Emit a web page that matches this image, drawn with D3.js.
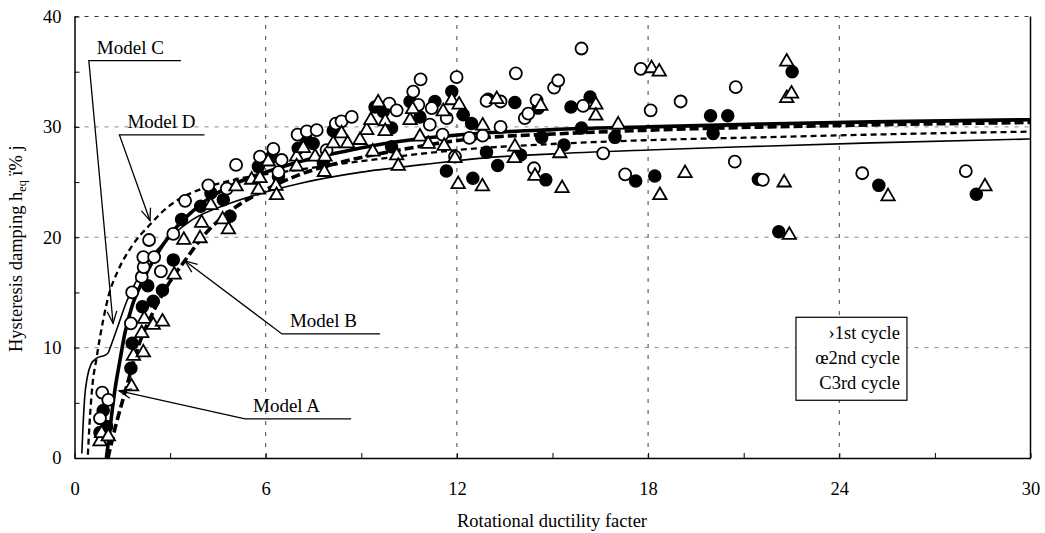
<!DOCTYPE html>
<html>
<head>
<meta charset="utf-8">
<script src="https://cdn.jsdelivr.net/npm/d3@7"></script>
<style>
body { margin: 0; background: #fff; }
svg text { font-family: "Liberation Serif", "Times New Roman", serif; fill: #000; }
</style>
</head>
<body>
<div id="chart"></div>
<script>
// --- data ---
// axis ticks
var muTicks = [0, 3, 6, 9, 12, 15, 18, 21, 24, 27, 30];
var hTicks = [0, 5, 10, 15, 20, 25, 30, 35, 40];
var gridMu = [6, 12, 18, 24];
var gridH = [10, 20, 30, 40];

// model curves [mu, h]
var modelA = [[1.0,0],[1.1,2.3],[1.17,4.0],[1.27,6.2],[1.43,8.9],[1.58,11.3],[1.8,13.7],[2.1,15.8],[2.53,18.2],[3.05,20.4],[3.57,22.0],[4.2,23.5],[5.0,24.8],[6.0,25.9],[7.0,26.8],[8.5,27.8],[10,28.6],[12.4,29.35],[15,29.75],[18,30.0],[21.5,30.25],[25,30.45],[30,30.65]];
var modelB = [[1.05,0],[1.3,3.0],[1.58,5.9],[2.0,10.1],[2.5,13.4],[3.0,16.0],[3.47,17.9],[4.1,20.3],[4.9,22.4],[6.0,24.3],[7.0,25.6],[8.5,26.9],[10,27.8],[12.4,28.9],[15,29.35],[18,29.7],[21.5,29.98],[25,30.18],[30,30.4]];
var modelC = [[0.23,0.4],[0.27,3.0],[0.32,5.5],[0.40,7.3],[0.52,8.5],[0.7,9.05],[0.95,9.3],[1.05,9.5],[1.12,10.0],[1.32,11.6],[1.64,14.2],[1.95,16.1],[2.4,18.2],[3.0,20.0],[3.7,21.6],[4.9,23.1],[6.0,24.1],[7.1,24.9],[9,25.9],[11,26.6],[12.7,27.15],[15,27.55],[18,27.9],[21,28.2],[25,28.55],[30,28.9]];
var modelD = [[0.42,0.3],[0.47,3.0],[0.54,5.9],[0.70,9.2],[0.9,12.5],[1.06,14.6],[1.37,17.0],[1.79,19.15],[2.42,21.3],[2.79,22.4],[3.2,23.3],[4.0,24.4],[5.0,25.2],[7.0,26.1],[9.0,26.9],[12.4,28.0],[15,28.45],[18,28.8],[21.5,29.05],[25,29.3],[30,29.57]];

// test results [mu, h]
var cycle1 = [[0.80,2.3],[0.90,4.3],[1.01,2.85],[1.77,8.13],[1.81,10.4],[2.13,13.7],[2.30,15.6],[2.47,14.2],[2.76,15.2],[3.10,17.95],[3.36,21.6],[3.96,22.8],[4.28,24.0],[4.67,23.4],[4.88,21.9],[5.77,26.4],[6.19,27.3],[6.40,25.5],[7.02,28.06],[7.26,28.9],[7.49,28.5],[7.81,26.7],[8.12,29.65],[9.43,31.8],[9.69,31.4],[9.95,29.9],[9.95,28.2],[10.53,32.3],[10.84,30.9],[11.31,32.3],[11.84,33.2],[11.67,26.0],[12.20,31.1],[12.46,30.3],[12.50,25.35],[12.93,27.7],[12.98,32.5],[13.28,26.5],[13.82,32.2],[14.00,27.45],[14.55,31.7],[14.66,29.05],[14.79,25.2],[15.36,28.36],[15.58,31.8],[15.91,29.9],[16.18,32.7],[16.96,29.05],[17.61,25.1],[18.21,25.55],[19.96,31.0],[20.04,29.4],[20.50,31.0],[21.46,25.25],[22.10,20.5],[22.52,35.0],[25.24,24.7],[28.30,23.9]];
var cycle2 = [[0.87,5.92],[1.06,5.26],[0.80,3.6],[1.77,12.2],[1.81,15.0],[2.11,16.4],[2.17,17.3],[2.16,18.2],[2.34,19.75],[2.50,18.2],[2.71,16.9],[3.10,20.3],[3.47,23.3],[4.20,24.7],[4.78,24.4],[5.07,26.55],[5.82,27.3],[6.24,28.0],[6.40,25.9],[6.50,27.0],[7.00,29.3],[7.29,29.6],[7.60,29.7],[7.91,27.9],[8.20,30.3],[8.38,30.5],[8.70,30.9],[9.88,32.1],[10.11,31.5],[10.63,33.2],[10.79,32.0],[10.86,34.3],[11.15,30.2],[11.21,31.7],[11.55,29.3],[11.68,30.8],[11.94,27.3],[11.99,34.5],[12.39,29.0],[12.81,29.2],[12.93,32.35],[13.37,32.3],[13.37,30.0],[13.85,34.85],[14.13,30.8],[14.24,31.2],[14.42,26.25],[14.50,32.4],[15.05,33.55],[15.18,34.2],[15.91,37.1],[15.96,31.9],[16.59,27.6],[17.28,25.7],[17.77,35.25],[18.08,31.5],[19.02,32.3],[20.75,33.6],[20.72,26.85],[21.60,25.2],[24.72,25.8],[27.97,26.0]];
var cycle3 = [[0.80,1.5],[0.85,2.24],[1.06,1.94],[1.79,6.47],[1.85,9.25],[2.16,9.55],[2.11,11.3],[2.19,12.6],[2.47,12.05],[2.76,12.35],[3.13,16.6],[3.43,19.75],[3.94,19.9],[3.99,21.3],[4.28,22.9],[4.65,21.6],[4.83,20.7],[5.07,24.6],[5.56,25.2],[5.77,24.3],[5.82,25.35],[6.08,26.85],[6.32,24.65],[6.34,23.8],[6.97,27.3],[6.97,26.4],[7.18,28.06],[7.55,27.3],[7.84,25.9],[7.86,27.3],[8.12,28.5],[8.38,29.4],[8.57,28.5],[8.96,28.8],[9.17,29.7],[9.30,30.6],[9.36,27.75],[9.53,32.2],[9.75,30.5],[9.75,29.6],[10.11,27.4],[10.16,26.45],[10.53,30.6],[10.61,31.6],[10.84,29.1],[11.10,28.45],[11.57,31.4],[11.60,28.27],[11.84,32.4],[11.94,27.15],[12.04,24.8],[12.07,32.0],[12.80,24.6],[12.81,30.1],[13.25,32.5],[13.80,27.15],[13.82,28.2],[14.45,25.55],[14.63,31.9],[15.23,27.6],[15.30,24.44],[16.36,32.0],[16.36,31.0],[17.06,30.2],[18.11,35.3],[18.35,35.0],[18.37,23.8],[19.16,25.8],[22.27,24.95],[22.35,35.9],[22.35,32.6],[22.50,33.0],[22.43,20.2],[25.53,23.7],[28.57,24.6]];

// model call-outs: arrow tip, elbow of the leader, end of the underline (mu)
var callouts = [
  {name: "Model C", tip: [1.21, 12.2], elbow: [0.45, 36.0], end: 3.34},
  {name: "Model D", tip: [2.37, 21.5], elbow: [1.41, 29.27], end: 4.08},
  {name: "Model B", tip: [3.47, 17.85], elbow: [6.51, 11.24], end: 9.59},
  {name: "Model A", tip: [1.40, 6.08], elbow: [5.35, 3.54], end: 8.68}
];
// legend: garbled marker glyph + label (as in the source figure)
var legendLabels = ["\u203a1st cycle", "\u01532nd cycle", "C3rd cycle"];

// --- set up ---
var width = 1045, height = 533;
var margin = {top: 16.5, right: 14.5, bottom: 75, left: 74.5};

var svg = d3.select("#chart").append("svg")
    .attr("width", width)
    .attr("height", height);

var x = d3.scaleLinear().domain([0, 30]).range([margin.left, width - margin.right]);
var y = d3.scaleLinear().domain([0, 40]).range([height - margin.bottom, margin.top]);

// grid
svg.append("g").selectAll("line").data(gridMu).join("line")
    .attr("x1", d => x(d)).attr("x2", d => x(d))
    .attr("y1", y(0)).attr("y2", y(40))
    .attr("stroke", "#444").attr("stroke-width", 1)
    .attr("stroke-dasharray", "4,7");

svg.append("g").selectAll("line").data(gridH).join("line")
    .attr("x1", x(0)).attr("x2", x(30))
    .attr("y1", d => y(d)).attr("y2", d => y(d))
    .attr("stroke", d => d == 40 ? "#333" : "#888").attr("stroke-width", 1)
    .attr("stroke-dasharray", "4,6");

// axes
var fontSize = "18.5px";
var axisX = d3.axisBottom(x).tickValues(muTicks).tickSize(-5).tickSizeOuter(0)
    .tickPadding(24).tickFormat(d => d % 6 == 0 ? d : "");
var axisY = d3.axisLeft(y).tickValues(hTicks).tickSize(-5).tickSizeOuter(0)
    .tickPadding(13).tickFormat(d => d % 10 == 0 ? d : "");

var gx = svg.append("g").attr("transform", "translate(0," + y(0) + ")").call(axisX);
var gy = svg.append("g").attr("transform", "translate(" + x(0) + ",0)").call(axisY);
[gx, gy].forEach(g => {
  g.select(".domain").attr("stroke", "#000").attr("stroke-width", 1.5);
  g.selectAll(".tick line").attr("stroke", "#000").attr("stroke-width", 1);
  g.selectAll(".tick text").attr("font-family", null).style("font-size", fontSize);
});

// right border
svg.append("line")
    .attr("x1", x(30)).attr("x2", x(30)).attr("y1", y(0)).attr("y2", y(40))
    .attr("stroke", "#000").attr("stroke-width", 1.5);

// model curves
var line = d3.line().x(d => x(d[0])).y(d => y(d[1])).curve(d3.curveMonotoneX);
var models = [
  {data: modelD, w: 2.3, dash: "6,4"},
  {data: modelC, w: 1.6, dash: null},
  {data: modelB, w: 3.6, dash: "9,4"},
  {data: modelA, w: 3.6, dash: null}
];
svg.append("g").selectAll("path").data(models).join("path")
    .attr("d", d => line(d.data))
    .attr("fill", "none")
    .attr("stroke", "#000")
    .attr("stroke-width", d => d.w)
    .attr("stroke-dasharray", d => d.dash);

// test points
svg.append("g").selectAll("circle").data(cycle1).join("circle")
    .attr("cx", d => x(d[0])).attr("cy", d => y(d[1])).attr("r", 6)
    .attr("fill", "#000").attr("stroke", "#000").attr("stroke-width", 1.5);

svg.append("g").selectAll("circle").data(cycle2).join("circle")
    .attr("cx", d => x(d[0])).attr("cy", d => y(d[1])).attr("r", 6)
    .attr("fill", "#fff").attr("stroke", "#000").attr("stroke-width", 1.8);

var tri = d3.symbol(d3.symbolTriangle, 78);
svg.append("g").selectAll("path").data(cycle3).join("path")
    .attr("d", tri)
    .attr("transform", d => "translate(" + x(d[0]) + "," + y(d[1]) + ")")
    .attr("fill", "#fff").attr("stroke", "#000").attr("stroke-width", 1.8);

// call-outs with open arrow heads
var co = svg.append("g").selectAll("g").data(callouts).join("g");
co.append("polyline")
    .attr("points", d => [[x(d.end), y(d.elbow[1])], [x(d.elbow[0]), y(d.elbow[1])], [x(d.tip[0]), y(d.tip[1])]].join(" "))
    .attr("fill", "none").attr("stroke", "#000").attr("stroke-width", 1.3);
co.append("path")
    .attr("d", d => {
      var tx = x(d.tip[0]), ty = y(d.tip[1]);
      var a = Math.atan2(ty - y(d.elbow[1]), tx - x(d.elbow[0]));
      var L = 13, s = 0.38;
      return "M" + (tx - L * Math.cos(a - s)) + "," + (ty - L * Math.sin(a - s)) +
             "L" + tx + "," + ty +
             "L" + (tx - L * Math.cos(a + s)) + "," + (ty - L * Math.sin(a + s));
    })
    .attr("fill", "none").attr("stroke", "#000").attr("stroke-width", 1.3);
co.append("text")
    .attr("x", d => x(d.elbow[0]) + 8)
    .attr("y", d => y(d.elbow[1]) - 7)
    .style("font-size", "19px")
    .text(d => d.name);

// legend
var lx = x(22.64), ly = y(12.75);
var legend = svg.append("g").attr("transform", "translate(" + lx + "," + ly + ")");
legend.append("rect")
    .attr("width", 111).attr("height", 83)
    .attr("fill", "#fff").attr("stroke", "#000").attr("stroke-width", 1.2);
legend.selectAll("text").data(legendLabels).join("text")
    .attr("x", 104)
    .attr("y", (d, i) => 22 + i * 25)
    .attr("text-anchor", "end")
    .style("font-size", fontSize)
    .text(d => d);

// axis titles
svg.append("text")
    .attr("x", 552)
    .attr("y", 527)
    .attr("text-anchor", "middle")
    .style("font-size", fontSize)
    .text("Rotational ductility facter");

var yt = svg.append("text")
    .attr("transform", "translate(22,352) rotate(-90)")
    .attr("text-anchor", "start")
    .style("font-size", fontSize);
yt.append("tspan").text("Hysteresis damping  h");
yt.append("tspan").attr("dy", 4).style("font-size", "12px").text("eq");
yt.append("tspan").attr("dy", -4).text(" \u00ef% j");
</script>
</body>
</html>
